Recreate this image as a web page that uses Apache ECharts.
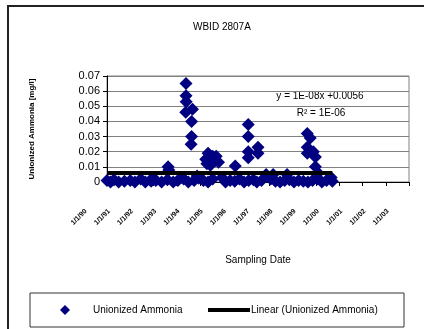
<!DOCTYPE html>
<html><head><meta charset="utf-8">
<script src="https://cdn.jsdelivr.net/npm/echarts@6/dist/echarts.min.js"></script>
<style>html,body{margin:0;padding:0;background:#fff}#c{width:424px;height:329px}</style>
</head><body><div id="c"></div>
<script>
// Sampling dates as decimal years, and unionized ammonia values (mg/l)
const sampleYears = [
 1990.00,1990.15,1990.30,1990.50,1990.75,1991.00,1991.20,1991.45,1991.65,1991.90,
 1991.98,1992.10,1992.35,1992.60,1992.63,1992.66,1992.85,1993.05,1993.23,1993.30,
 1993.40,1993.40,1993.41,1993.39,1993.68,1993.64,1993.64,1993.62,1993.50,1993.75,
 1993.88,1993.95,1994.15,1994.25,1994.30,1994.35,1994.45,1994.55,1994.65,1994.70,
 1994.80,1994.35,1994.55,1994.95,1995.10,1995.30,1995.50,1995.52,1995.70,1995.90,
 1996.08,1996.08,1996.08,1996.08,1996.50,1996.50,1996.10,1996.30,1996.45,1996.65,
 1996.85,1997.05,1997.15,1997.25,1997.45,1997.65,1997.75,1997.85,1998.05,1998.25,
 1998.45,1998.62,1998.75,1998.62,1998.62,1998.88,1998.97,1998.97,1999.09,1999.05,
 1998.65,1998.85,1999.25,1999.45,1999.65,1999.70
];
const ammoniaValues = [
 0.001,0,0.0015,0,0.0005,0.001,0,0.002,0,0.0005,
 0.003,0.001,0,0.0015,0.010,0.008,0,0.001,0.003,0.002,
 0.065,0.057,0.053,0.046,0.048,0.040,0.030,0.025,0,0.001,
 0.004,0.0025,0.001,0.015,0.012,0.019,0.011,0.017,0.014,0.017,
 0.013,0,0.002,0.003,0,0.001,0.0005,0.0105,0.002,0,
 0.038,0.030,0.020,0.016,0.023,0.019,0.001,0.0015,0,0.001,
 0.005,0.002,0.005,0.0005,0,0.001,0.005,0.0015,0,0.001,
 0.0005,0.032,0.029,0.023,0.019,0.020,0.0165,0.010,0.006,0.002,
 0,0.001,0,0.001,0.003,0.0005
];
const xTickLabels = ['1/1/90','1/1/91','1/1/92','1/1/93','1/1/94','1/1/95','1/1/96',
 '1/1/97','1/1/98','1/1/99','1/1/00','1/1/01','1/1/02','1/1/03'];
const xMin = 1990, xMax = 2003, xStep = 1;
const yTicks = [0, 0.01, 0.02, 0.03, 0.04, 0.05, 0.06, 0.07];
// Excel trendline as labelled (x = Excel date serial)
const trendSlope = 1e-8, trendIntercept = 0.0056;
const equationText = 'y = 1E-08x +0.0056';
const r2Text = 'R² = 1E-06';

const toSerial = y => (y - 1900) * 365.25 + 2;
const scatterData = sampleYears.map((x, i) => [x, ammoniaValues[i]]);
const tMin = Math.min(...sampleYears), tMax = Math.max(...sampleYears);
const trendData = [tMin, tMax].map(x => [x, trendIntercept + trendSlope * toSerial(x)]);

const FONT = 'Liberation Sans, Arial, sans-serif';
const chart = echarts.init(document.getElementById('c'), null, {renderer: 'canvas'});
chart.setOption({
  animation: false,
  backgroundColor: '#fff',
  title: {text: 'WBID 2807A', left: 188, top: 17,
    textStyle: {fontFamily: FONT, fontSize: 10, fontWeight: 'normal', color: '#000'}},
  grid: {left: 107, top: 76, right: 15, bottom: 147, show: true,
    borderColor: '#808080', borderWidth: 1, backgroundColor: 'transparent'},
  xAxis: {
    type: 'value', min: xMin, max: xMax, interval: xStep,
    name: 'Sampling Date', nameLocation: 'middle', nameGap: 73,
    nameTextStyle: {fontFamily: FONT, fontSize: 10, color: '#000'},
    axisLine: {lineStyle: {color: '#000', width: 1}},
    axisTick: {show: true, length: 4, lineStyle: {color: '#000'}},
    splitLine: {show: false},
    axisLabel: {rotate: 45, margin: 7, fontFamily: FONT, fontSize: 7, fontWeight: 'bold',
      color: '#000', padding: [0, 30, 0, 0],
      formatter: v => xTickLabels[Math.round((v - xMin) / xStep)] || ''}
  },
  yAxis: {
    type: 'value', min: yTicks[0], max: yTicks[yTicks.length - 1], interval: 0.01,
    name: 'Unionized Ammonia [mg/l]', nameLocation: 'middle', nameGap: 71, nameRotate: 90,
    nameTextStyle: {fontFamily: FONT, fontSize: 8, fontWeight: 'bold', color: '#000'},
    axisLine: {show: true, lineStyle: {color: '#000', width: 1}},
    axisTick: {show: true, length: 4, lineStyle: {color: '#000'}},
    splitLine: {show: true, lineStyle: {color: '#808080', width: 1}},
    axisLabel: {margin: 7, fontFamily: FONT, fontSize: 11, color: '#000',
      formatter: v => (v === 0 ? '0' : v.toFixed(2))}
  },
  legend: [
    {data: ['Unionized Ammonia'], left: 55, top: 300, icon: 'diamond',
     itemWidth: 10, itemHeight: 10,
     textStyle: {fontFamily: FONT, fontSize: 10, color: '#000', padding: [0, 0, 0, 18]}},
    {data: ['Linear (Unionized Ammonia)'], left: 203, top: 300, icon: 'rect',
     itemWidth: 42, itemHeight: 4, itemGap: 0,
     textStyle: {fontFamily: FONT, fontSize: 10, color: '#000', padding: [0, 0, 0, -4]}}
  ],
  graphic: [
    {type: 'rect', shape: {x: 8, y: 6, width: 440, height: 360}, silent: true,
     style: {fill: 'none', stroke: '#222', lineWidth: 2}},
    {type: 'rect', shape: {x: 30, y: 293, width: 374, height: 34}, silent: true,
     style: {fill: 'none', stroke: '#333', lineWidth: 1}},
    {type: 'text', x: 320, y: 96, silent: true,
     style: {text: equationText, font: '10px ' + FONT, fill: '#000', align: 'center', verticalAlign: 'middle'}},
    {type: 'text', x: 321, y: 113, silent: true,
     style: {text: r2Text, font: '10px ' + FONT, fill: '#000', align: 'center', verticalAlign: 'middle'}}
  ],
  series: [
    {name: 'Unionized Ammonia', type: 'scatter', data: scatterData,
     symbol: 'diamond', symbolSize: 13, itemStyle: {color: '#000080', opacity: 1}, z: 2},
    {name: 'Linear (Unionized Ammonia)', type: 'line', data: trendData,
     symbol: 'none', lineStyle: {color: '#000', width: 4}, itemStyle: {color: '#000'}, z: 3}
  ]
});
</script></body></html>
